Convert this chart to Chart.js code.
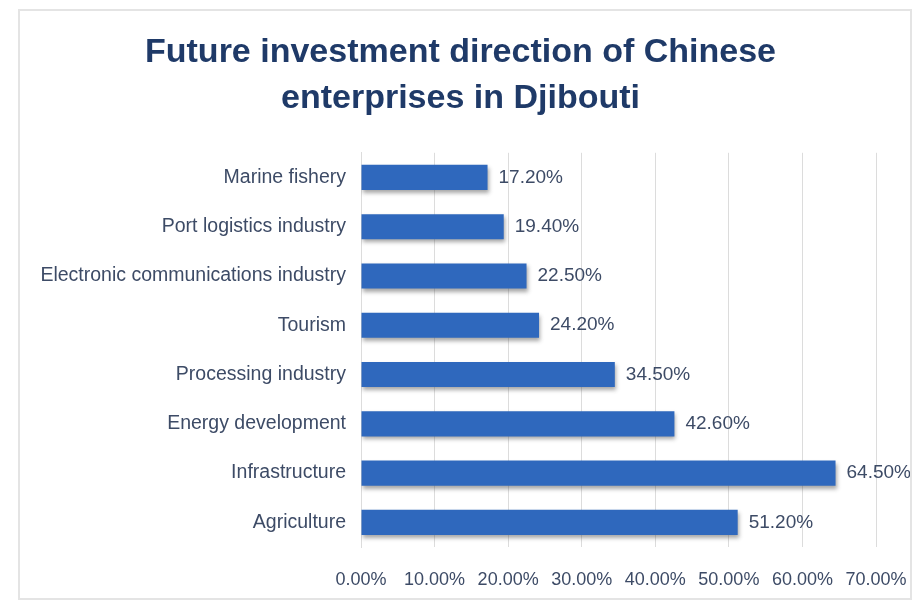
<!DOCTYPE html>
<html>
<head>
<meta charset="utf-8">
<title>Future investment direction of Chinese enterprises in Djibouti</title>
<script src="https://cdn.jsdelivr.net/npm/chart.js@4.4.1/dist/chart.umd.min.js"></script>
<style>
  html, body { margin: 0; padding: 0; background: #fff; }
  #wrap { position: relative; width: 921px; height: 606px; }
  #frame {
    position: absolute; left: 18px; top: 9px; width: 890px; height: 587px;
    border: 2px solid #e4e4e4; pointer-events: none;
  }
  canvas { position: absolute; left: 0; top: 0; }
</style>
</head>
<body>
<div id="wrap">
  <canvas id="grafInvest" width="921" height="606"></canvas>
  <div id="frame"></div>
</div>
<script>
// sectors, top to bottom
const setores = [
  'Marine fishery',
  'Port logistics industry',
  'Electronic communications industry',
  'Tourism',
  'Processing industry',
  'Energy development',
  'Infrastructure',
  'Agriculture'
];
// share of enterprises (%)
const percentuais = [17.2, 19.4, 22.5, 24.2, 34.5, 42.6, 64.5, 51.2];
// x axis ticks (%)
const ticksX = [0, 10, 20, 30, 40, 50, 60, 70];

const corTexto = '#3d4b66';
const fonte = '"Liberation Sans", Arial, sans-serif';

// gradient for the bars, lighter on top
function gradienteBarra(context) {
  const el = context.element;
  const ctx = context.chart.ctx;
  if (!el || el.y === undefined) return '#2f68bd';
  const h = el.height || 25;
  const g = ctx.createLinearGradient(0, el.y - h / 2, 0, el.y + h / 2);
  g.addColorStop(0, '#4585d6');
  g.addColorStop(0.5, '#2f6cc2');
  g.addColorStop(1, '#22529a');
  return g;
}

// soft shadow under the bars
const sombraBarras = {
  id: 'sombraBarras',
  beforeDatasetsDraw(chart) {
    const ctx = chart.ctx;
    ctx.save();
    ctx.shadowColor = 'rgba(60,60,60,0.45)';
    ctx.shadowBlur = 4;
    ctx.shadowOffsetX = 1;
    ctx.shadowOffsetY = 3;
  },
  afterDatasetsDraw(chart) {
    chart.ctx.restore();
  }
};

// value labels at the end of each bar
const rotulosValor = {
  id: 'rotulosValor',
  afterDatasetsDraw(chart) {
    const ctx = chart.ctx;
    const meta = chart.getDatasetMeta(0);
    ctx.save();
    ctx.font = '19px ' + fonte;
    ctx.fillStyle = corTexto;
    ctx.textAlign = 'left';
    ctx.textBaseline = 'middle';
    meta.data.forEach((bar, i) => {
      ctx.fillText(percentuais[i].toFixed(2) + '%', bar.x + 11, bar.y);
    });
    ctx.restore();
  }
};

const grafInvest = document.getElementById('grafInvest').getContext('2d');

new Chart(grafInvest, {
  type: 'bar',
  data: {
    labels: setores,
    datasets: [{
      data: percentuais,
      backgroundColor: gradienteBarra,
      borderWidth: 0,
      categoryPercentage: 1,
      barPercentage: 0.51
    }]
  },
  options: {
    indexAxis: 'y',
    responsive: false,
    animation: false,
    layout: { padding: 0 },
    plugins: {
      legend: { display: false },
      tooltip: { enabled: false },
      title: {
        display: true,
        text: ['Future investment direction of Chinese', 'enterprises in Djibouti'],
        color: '#1f3a68',
        font: { family: fonte, size: 34, weight: 'bold', lineHeight: 1.35 },
        padding: { top: 30, bottom: 31 }
      }
    },
    scales: {
      x: {
        min: 0,
        max: 70,
        afterBuildTicks(scale) {
          scale.ticks = ticksX.map(v => ({ value: v }));
        },
        afterFit(scale) {
          scale.height = 59;
          scale.paddingLeft = 0;
          scale.paddingRight = 45;
        },
        grid: { color: '#dcdcdc', lineWidth: 1, drawTicks: false },
        border: { display: false },
        ticks: {
          color: corTexto,
          padding: 22,
          maxRotation: 0,
          autoSkip: false,
          font: { family: fonte, size: 18 },
          callback: v => v.toFixed(2) + '%'
        }
      },
      y: {
        afterFit(scale) { scale.width = 361; },
        grid: { display: false, drawTicks: false },
        border: { display: true, color: '#dcdcdc' },
        ticks: {
          color: corTexto,
          padding: 15,
          font: { family: fonte, size: 19.5 }
        }
      }
    }
  },
  plugins: [sombraBarras, rotulosValor]
});
</script>
</body>
</html>
